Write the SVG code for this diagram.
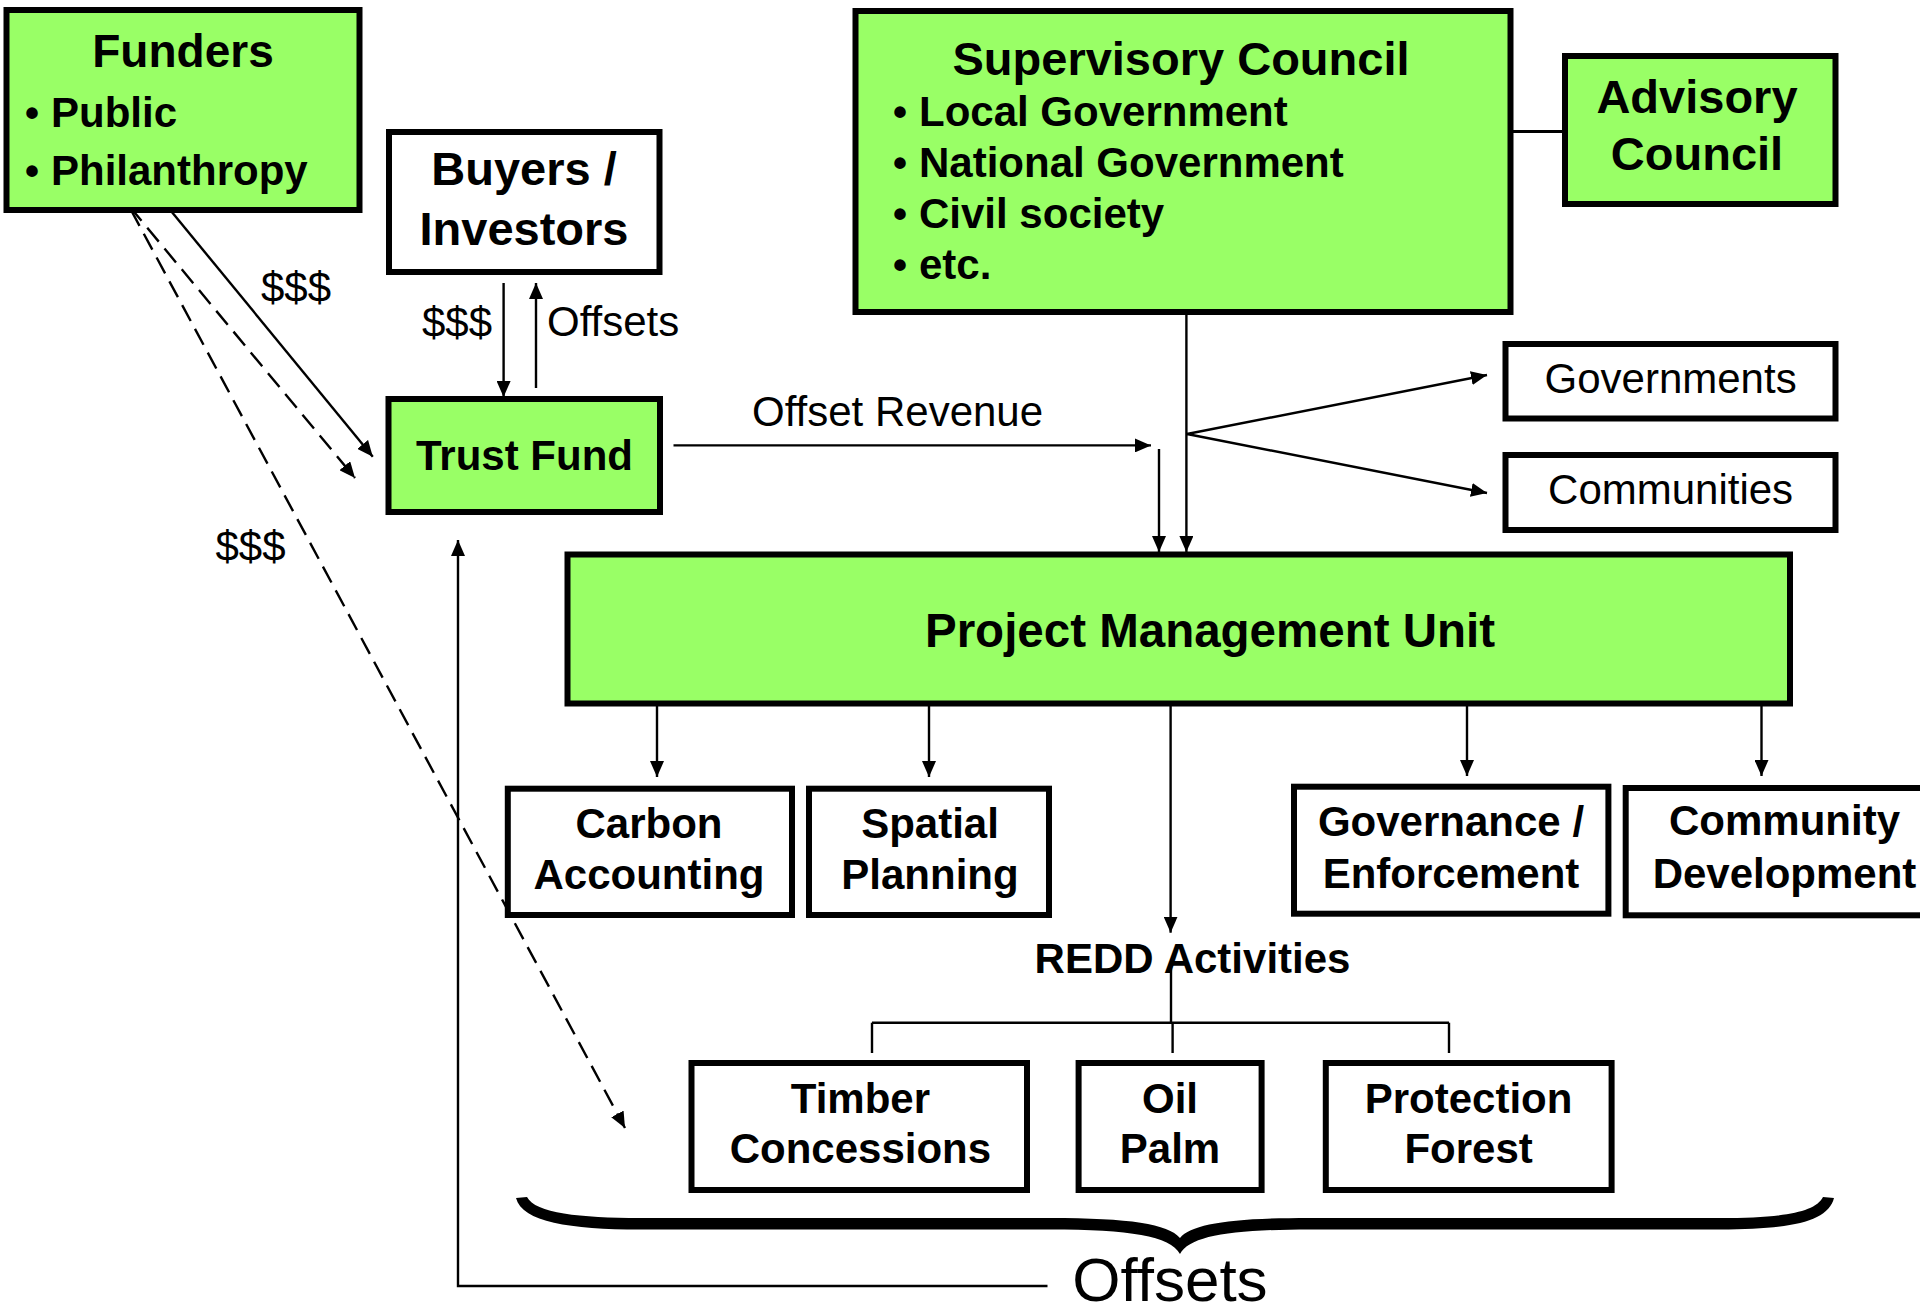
<svg xmlns="http://www.w3.org/2000/svg" width="1920" height="1305" viewBox="0 0 1920 1305">
<defs>
<style>
.box{stroke:#000;stroke-width:6;fill:#fff}
.g{fill:#99FF66}
.t{font-family:"Liberation Sans",Arial,sans-serif;font-weight:bold;fill:#000}
.r{font-family:"Liberation Sans",Arial,sans-serif;font-weight:normal;fill:#000}
.c{text-anchor:middle}
.ln{stroke:#000;stroke-width:2.4;fill:none}
.ds{stroke:#000;stroke-width:2.4;fill:none;stroke-dasharray:18 9}
</style>
<marker id="ah" viewBox="0 0 16 14" refX="16" refY="7" markerWidth="16" markerHeight="14" orient="auto" markerUnits="userSpaceOnUse"><path d="M0,0 L16,7 L0,14 Z" fill="#000"/></marker>
</defs>
<rect width="1920" height="1305" fill="#fff"/>

<g id="connectors">
<line class="ln" x1="162" y1="200" x2="372.8" y2="456.7" marker-end="url(#ah)"/>
<line class="ds" x1="130" y1="207" x2="355" y2="478" marker-end="url(#ah)"/>
<line class="ds" x1="131" y1="210" x2="625" y2="1128" marker-end="url(#ah)"/>
<line class="ln" x1="503.6" y1="283" x2="503.6" y2="397" marker-end="url(#ah)"/>
<line class="ln" x1="536" y1="388" x2="536" y2="283" marker-end="url(#ah)"/>
<line class="ln" x1="673.5" y1="445.4" x2="1151" y2="445.4" marker-end="url(#ah)"/>
<line class="ln" x1="1186.4" y1="315" x2="1186.4" y2="552" marker-end="url(#ah)"/>
<line class="ln" x1="1159" y1="449" x2="1159" y2="552" marker-end="url(#ah)"/>
<line class="ln" x1="1187" y1="434" x2="1487" y2="375" marker-end="url(#ah)"/>
<line class="ln" x1="1187" y1="434" x2="1487" y2="493" marker-end="url(#ah)"/>
<line x1="1513" y1="131.5" x2="1562" y2="131.5" stroke="#000" stroke-width="3"/>
<line class="ln" x1="657" y1="706" x2="657" y2="777" marker-end="url(#ah)"/>
<line class="ln" x1="929" y1="706" x2="929" y2="777" marker-end="url(#ah)"/>
<line class="ln" x1="1170.6" y1="706" x2="1170.6" y2="932.7" marker-end="url(#ah)"/>
<line class="ln" x1="1467" y1="706" x2="1467" y2="776" marker-end="url(#ah)"/>
<line class="ln" x1="1761.5" y1="706" x2="1761.5" y2="776" marker-end="url(#ah)"/>
<line class="ln" x1="1171" y1="965" x2="1171" y2="1022.7"/>
<line class="ln" x1="872" y1="1022.7" x2="1449" y2="1022.7"/>
<line class="ln" x1="872" y1="1022.7" x2="872" y2="1053"/>
<line class="ln" x1="1172.6" y1="1022.7" x2="1172.6" y2="1053"/>
<line class="ln" x1="1449" y1="1022.7" x2="1449" y2="1053"/>
<polyline class="ln" points="1047.5,1286 458,1286 458,540" marker-end="url(#ah)"/>
</g>

<g id="labels">
<text class="r" x="261" y="302" font-size="42">$$$</text>
<text class="r" x="215.5" y="561" font-size="42">$$$</text>
<text class="r" x="422" y="337" font-size="42">$$$</text>
<text class="r" x="547" y="336" font-size="42">Offsets</text>
<text class="r" x="752" y="426" font-size="42">Offset Revenue</text>
</g>

<g id="funders">
<rect class="box g" x="6.5" y="10" width="353" height="200"/>
<text class="t c" x="183" y="67" font-size="46">Funders</text>
<text class="t" x="25" y="127" font-size="40">•</text>
<text class="t" x="51" y="127" font-size="42">Public</text>
<text class="t" x="25" y="185" font-size="40">•</text>
<text class="t" x="51" y="185" font-size="42">Philanthropy</text>
</g>

<g id="buyers">
<rect class="box" x="389" y="132" width="270.5" height="140"/>
<text class="t c" x="524" y="185" font-size="47">Buyers /</text>
<text class="t c" x="524" y="245" font-size="47">Investors</text>
</g>

<g id="trust-fund">
<rect class="box g" x="388.5" y="399" width="271.5" height="113"/>
<text class="t c" x="524.5" y="470" font-size="42">Trust Fund</text>
</g>

<g id="supervisory">
<rect class="box g" x="855.5" y="11" width="655" height="301"/>
<text class="t c" x="1181" y="75" font-size="47">Supervisory Council</text>
<text class="t" x="893" y="125.7" font-size="40">•</text>
<text class="t" x="919" y="125.7" font-size="42">Local Government</text>
<text class="t" x="893" y="176.8" font-size="40">•</text>
<text class="t" x="919" y="176.8" font-size="42">National Government</text>
<text class="t" x="893" y="227.9" font-size="40">•</text>
<text class="t" x="919" y="227.9" font-size="42">Civil society</text>
<text class="t" x="893" y="278.6" font-size="40">•</text>
<text class="t" x="919" y="278.6" font-size="42">etc.</text>
</g>

<g id="advisory">
<rect class="box g" x="1565" y="56" width="270.5" height="148"/>
<text class="t c" x="1697" y="112.5" font-size="47">Advisory</text>
<text class="t c" x="1697" y="169.6" font-size="47">Council</text>
</g>

<g id="governments">
<rect class="box" x="1505.5" y="344" width="330" height="74.5"/>
<text class="r c" x="1670.6" y="393" font-size="42">Governments</text>
</g>

<g id="communities">
<rect class="box" x="1505.5" y="455" width="330" height="75"/>
<text class="r c" x="1670.6" y="504.3" font-size="42">Communities</text>
</g>

<g id="pmu">
<rect class="box g" x="567.5" y="554.5" width="1222.5" height="149"/>
<text class="t c" x="1210" y="647" font-size="47.5">Project Management Unit</text>
</g>

<g id="carbon">
<rect class="box" x="507.8" y="788.7" width="284.2" height="126.3"/>
<text class="t c" x="649" y="837.7" font-size="42">Carbon</text>
<text class="t c" x="649" y="889.3" font-size="42">Accounting</text>
</g>

<g id="spatial">
<rect class="box" x="809" y="788.7" width="240" height="126.3"/>
<text class="t c" x="930" y="837.7" font-size="42">Spatial</text>
<text class="t c" x="930" y="889.3" font-size="42">Planning</text>
</g>

<g id="governance">
<rect class="box" x="1294" y="786.7" width="314.4" height="127"/>
<text class="t c" x="1451" y="836" font-size="42">Governance /</text>
<text class="t c" x="1451" y="887.7" font-size="42">Enforcement</text>
</g>

<g id="community">
<rect class="box" x="1625.7" y="788" width="400" height="127.3"/>
<text class="t c" x="1784.5" y="835" font-size="42">Community</text>
<text class="t c" x="1784.5" y="888.3" font-size="42">Development</text>
</g>

<g id="redd">
<text class="t c" x="1192.5" y="973" font-size="42">REDD Activities</text>
</g>

<g id="timber">
<rect class="box" x="691.5" y="1063" width="335.5" height="127"/>
<text class="t c" x="860.4" y="1113" font-size="42">Timber</text>
<text class="t c" x="860.4" y="1163.3" font-size="42">Concessions</text>
</g>

<g id="oil-palm">
<rect class="box" x="1078.6" y="1063" width="183" height="127"/>
<text class="t c" x="1170" y="1113" font-size="42">Oil</text>
<text class="t c" x="1170" y="1163.3" font-size="42">Palm</text>
</g>

<g id="protection">
<rect class="box" x="1325.8" y="1063" width="285.8" height="127"/>
<text class="t c" x="1468.6" y="1113" font-size="42">Protection</text>
<text class="t c" x="1468.6" y="1163.3" font-size="42">Forest</text>
</g>

<g id="offsets-brace">
<path fill="#000" d="M516,1198 C522,1222 570,1229.5 640,1229.5 L1050,1229.5 C1130,1229.5 1170,1236 1180,1254 C1190,1236 1230,1229.5 1310,1229.5 L1720,1229.5 C1790,1229.5 1828,1222 1834,1198 L1823,1197 C1815,1213 1780,1218 1720,1218 L1310,1218 C1230,1218 1192,1224 1180,1238 C1168,1224 1130,1218 1050,1218 L640,1218 C580,1218 535,1213 527,1197 Z"/>
<text class="r c" x="1170" y="1301" font-size="62">Offsets</text>
</g>
</svg>
